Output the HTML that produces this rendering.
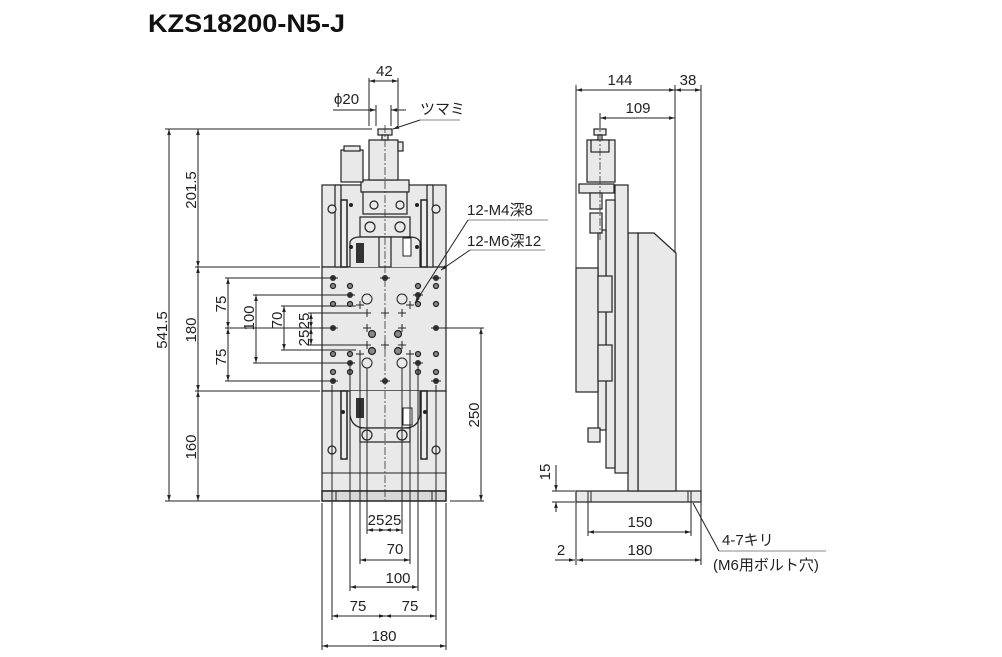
<!DOCTYPE html>
<html><head><meta charset="utf-8"><style>
body{margin:0;background:#fff}
svg{display:block}
text{font-family:"Liberation Sans","Noto Sans CJK JP",sans-serif;font-size:15px;fill:#222}
.d{stroke:#222;stroke-width:1;fill:none}
.o{stroke:#222;stroke-width:1.2;fill:#e9e9e9}
.c{stroke:#333;stroke-width:0.8;stroke-dasharray:8 2 2 2;fill:none}
</style></head><body>
<svg width="1002" height="657" viewBox="0 0 1002 657">
<defs>
<marker id="a" viewBox="0 0 10 10" refX="10" refY="5" markerWidth="8" markerHeight="6" orient="auto-start-reverse"><path d="M0,2 L10,5 L0,8z" fill="#222"/></marker>
</defs>
<text x="148" y="32" textLength="197" lengthAdjust="spacingAndGlyphs" style="font-size:25px;font-weight:bold;fill:#111">KZS18200-N5-J</text>

<!-- FRONT VIEW -->
<rect class="o" x="322" y="185" width="124" height="82"/>
<rect class="o" x="322" y="267" width="124" height="124"/>
<rect class="o" x="322" y="391" width="124" height="100"/>
<line class="d" x1="322" y1="473" x2="446" y2="473"/>
<rect x="322" y="491" width="124" height="10" fill="#d8d8d8" stroke="#222" stroke-width="1.5"/>
<line class="d" x1="332" y1="491" x2="332" y2="501"/><line class="d" x1="336" y1="491" x2="336" y2="501"/>
<line class="d" x1="432" y1="491" x2="432" y2="501"/><line class="d" x1="436" y1="491" x2="436" y2="501"/>
<rect class="o" x="335" y="185" width="6" height="82"/><rect class="o" x="427" y="185" width="6" height="82"/>
<rect x="341" y="200" width="6" height="67" fill="#eee" stroke="#222" stroke-width="1.5"/>
<rect x="421" y="200" width="6" height="67" fill="#eee" stroke="#222" stroke-width="1.5"/>
<rect x="341" y="391" width="6" height="68" fill="#eee" stroke="#222" stroke-width="1.5"/>
<rect x="421" y="391" width="6" height="68" fill="#eee" stroke="#222" stroke-width="1.5"/>
<rect class="o" x="361" y="180" width="48" height="12"/>
<rect class="o" x="363" y="192" width="44" height="22"/>
<rect class="o" x="360" y="217" width="50" height="20"/>
<path class="o" d="M350,267 L350,242 Q352,237 360,237 L410,237 Q418,237 420,242 L420,267"/>
<rect x="356" y="243" width="8" height="20" fill="#333"/>
<rect x="403" y="238" width="8" height="18" fill="#fff" stroke="#222"/>
<rect class="o" x="379" y="237" width="12" height="30"/>
<circle cx="370" cy="227" r="5" class="o"/><circle cx="400" cy="227" r="5" class="o"/>
<circle cx="374" cy="205" r="4" class="o"/><circle cx="400" cy="205" r="4" class="o"/>
<circle cx="332" cy="209" r="4" class="o"/><circle cx="436" cy="209" r="4" class="o"/>
<circle cx="351" cy="205" r="2" fill="#222"/><circle cx="417" cy="205" r="2" fill="#222"/>
<circle cx="351" cy="247" r="2" fill="#222"/><circle cx="417" cy="247" r="2" fill="#222"/>
<rect class="o" x="369" y="140" width="29" height="40"/>
<rect class="o" x="398" y="142" width="5" height="9"/>
<rect class="o" x="378" y="129" width="14" height="6"/>
<rect class="o" x="382" y="135" width="6" height="5"/>
<rect class="o" x="341" y="150" width="22" height="32"/>
<rect class="o" x="344" y="146" width="16" height="5"/>
<path class="o" d="M350,391 L350,415 Q352,428 365,428 L405,428 Q418,428 420,415 L420,391"/>
<rect x="356" y="398" width="8" height="20" fill="#333"/>
<rect x="403" y="408" width="9" height="17" fill="#fff" stroke="#222"/>
<rect class="o" x="360" y="428" width="50" height="14"/>
<circle cx="367" cy="435" r="5" class="o"/><circle cx="402" cy="435" r="5" class="o"/>
<circle cx="332" cy="450" r="4" class="o"/><circle cx="436" cy="450" r="4" class="o"/>
<circle cx="343" cy="412" r="2" fill="#222"/><circle cx="425" cy="412" r="2" fill="#222"/>
<g fill="#333">
<circle cx="333" cy="278" r="3"/><circle cx="385" cy="278" r="3"/><circle cx="436" cy="278" r="3"/>
<circle cx="333" cy="381" r="3"/><circle cx="385" cy="381" r="3"/><circle cx="436" cy="381" r="3"/>
<circle cx="350" cy="295" r="3"/><circle cx="418" cy="295" r="3"/><circle cx="350" cy="363" r="3"/><circle cx="418" cy="363" r="3"/>
<circle cx="333" cy="328" r="3"/><circle cx="436" cy="328" r="3"/>
</g>
<g fill="#888" stroke="#222" stroke-width="1.2">
<circle cx="333" cy="286" r="2.5"/><circle cx="350" cy="286" r="2.5"/><circle cx="418" cy="286" r="2.5"/><circle cx="436" cy="286" r="2.5"/>
<circle cx="333" cy="304" r="2.5"/><circle cx="350" cy="304" r="2.5"/><circle cx="418" cy="304" r="2.5"/><circle cx="436" cy="304" r="2.5"/>
<circle cx="333" cy="354" r="2.5"/><circle cx="350" cy="354" r="2.5"/><circle cx="418" cy="354" r="2.5"/><circle cx="436" cy="354" r="2.5"/>
<circle cx="333" cy="372" r="2.5"/><circle cx="350" cy="372" r="2.5"/><circle cx="418" cy="372" r="2.5"/><circle cx="436" cy="372" r="2.5"/>
<circle cx="372" cy="334" r="3.5"/><circle cx="398" cy="334" r="3.5"/><circle cx="372" cy="351" r="3.5"/><circle cx="398" cy="351" r="3.5"/>
</g>
<g class="d"><circle cx="367" cy="299" r="5"/><circle cx="402" cy="299" r="5"/><circle cx="367" cy="363" r="5"/><circle cx="402" cy="363" r="5"/></g>
<g stroke="#222" stroke-width="1">
<path d="M356,305h8M360,301v8 M406,305h8M410,301v8 M356,354h8M360,350v8 M406,354h8M410,350v8"/>
<path d="M363,313h8M367,309v8 M381,313h8M385,309v8 M398,313h8M402,309v8 M363,345h8M367,341v8 M381,345h8M385,341v8 M398,345h8M402,341v8"/>
<path d="M363,328h8M367,324v8 M398,328h8M402,324v8"/>
<path d="M328,278h10 M380,278h10 M431,278h10 M328,381h10 M380,381h10 M431,381h10 M345,295h10 M413,295h10 M345,363h10 M413,363h10 M328,328h10 M431,328h10"/>
</g>
<line class="c" x1="385" y1="125" x2="385" y2="500"/>
<g class="d">
<line x1="165" y1="129" x2="372" y2="129"/>
<line x1="195" y1="267" x2="320" y2="267"/>
<line x1="195" y1="391" x2="320" y2="391"/>
<line x1="165" y1="501" x2="320" y2="501"/>
<line x1="450" y1="501" x2="484" y2="501"/>
<line x1="440" y1="328" x2="484" y2="328"/>
<line x1="169" y1="129" x2="169" y2="501" marker-start="url(#a)" marker-end="url(#a)"/>
<line x1="198" y1="129" x2="198" y2="267" marker-start="url(#a)" marker-end="url(#a)"/>
<line x1="198" y1="267" x2="198" y2="391" marker-start="url(#a)" marker-end="url(#a)"/>
<line x1="198" y1="391" x2="198" y2="501" marker-start="url(#a)" marker-end="url(#a)"/>
<line x1="481" y1="328" x2="481" y2="501" marker-start="url(#a)" marker-end="url(#a)"/>
<line x1="225" y1="278" x2="328" y2="278"/><line x1="225" y1="328" x2="328" y2="328"/><line x1="225" y1="381" x2="328" y2="381"/>
<line x1="228" y1="278" x2="228" y2="328" marker-start="url(#a)" marker-end="url(#a)"/>
<line x1="228" y1="328" x2="228" y2="381" marker-start="url(#a)" marker-end="url(#a)"/>
<line x1="253" y1="295" x2="345" y2="295"/><line x1="253" y1="363" x2="345" y2="363"/>
<line x1="256" y1="295" x2="256" y2="363" marker-start="url(#a)" marker-end="url(#a)"/>
<line x1="281" y1="306" x2="356" y2="306"/><line x1="281" y1="350" x2="356" y2="350"/>
<line x1="284" y1="306" x2="284" y2="350" marker-start="url(#a)" marker-end="url(#a)"/>
<line x1="308" y1="313" x2="363" y2="313"/><line x1="308" y1="345" x2="363" y2="345"/>
<line x1="311" y1="313" x2="311" y2="328" marker-start="url(#a)" marker-end="url(#a)"/>
<line x1="311" y1="328" x2="311" y2="345" marker-start="url(#a)" marker-end="url(#a)"/>
<line x1="322" y1="503" x2="322" y2="650"/><line x1="446" y1="503" x2="446" y2="650"/>
<line x1="332" y1="385" x2="332" y2="620"/><line x1="436" y1="385" x2="436" y2="620"/>
<line x1="350" y1="366" x2="350" y2="591"/><line x1="418" y1="366" x2="418" y2="591"/>
<line x1="360" y1="358" x2="360" y2="564"/><line x1="410" y1="358" x2="410" y2="564"/>
<line x1="367" y1="368" x2="367" y2="534"/><line x1="402" y1="368" x2="402" y2="534"/>
<line x1="367" y1="530" x2="385" y2="530" marker-start="url(#a)" marker-end="url(#a)"/>
<line x1="385" y1="530" x2="402" y2="530" marker-start="url(#a)" marker-end="url(#a)"/>
<line x1="360" y1="560" x2="410" y2="560" marker-start="url(#a)" marker-end="url(#a)"/>
<line x1="350" y1="587" x2="418" y2="587" marker-start="url(#a)" marker-end="url(#a)"/>
<line x1="332" y1="616" x2="385" y2="616" marker-start="url(#a)" marker-end="url(#a)"/>
<line x1="385" y1="616" x2="436" y2="616" marker-start="url(#a)" marker-end="url(#a)"/>
<line x1="322" y1="646" x2="446" y2="646" marker-start="url(#a)" marker-end="url(#a)"/>
<line x1="369" y1="78" x2="369" y2="126"/><line x1="398" y1="78" x2="398" y2="126"/>
<line x1="376" y1="105" x2="376" y2="126"/><line x1="391" y1="105" x2="391" y2="126"/>
<line x1="369" y1="81" x2="398" y2="81" marker-start="url(#a)" marker-end="url(#a)"/>
<line x1="333" y1="110" x2="376" y2="110" marker-end="url(#a)"/>
<line x1="406" y1="110" x2="391" y2="110" marker-end="url(#a)"/>
<line x1="460" y1="120" x2="420" y2="120" stroke="#888"/><line x1="420" y1="120" x2="393" y2="129" marker-end="url(#a)"/>
<line x1="548" y1="220" x2="468" y2="220" stroke="#888"/><line x1="468" y1="220" x2="415" y2="303" marker-end="url(#a)"/>
<line x1="545" y1="250" x2="470" y2="250" stroke="#888"/><line x1="470" y1="250" x2="441" y2="270" marker-end="url(#a)"/>
</g>
<text x="376" y="76">42</text>
<text x="334" y="104">ϕ20</text>
<text x="420" y="114">ツマミ</text>
<text x="467" y="215">12-M4深8</text>
<text x="467" y="246">12-M6深12</text>
<g text-anchor="middle">
<text transform="translate(167,330) rotate(-90)">541.5</text>
<text transform="translate(196,190) rotate(-90)">201.5</text>
<text transform="translate(196,330) rotate(-90)">180</text>
<text transform="translate(196,447) rotate(-90)">160</text>
<text transform="translate(226,304) rotate(-90)">75</text>
<text transform="translate(226,357) rotate(-90)">75</text>
<text transform="translate(254,318) rotate(-90)">100</text>
<text transform="translate(282,320) rotate(-90)">70</text>
<text transform="translate(309,321) rotate(-90)">25</text>
<text transform="translate(309,338) rotate(-90)">25</text>
<text transform="translate(479,415) rotate(-90)">250</text>
<text x="376" y="525">25</text><text x="393" y="525">25</text>
<text x="395" y="554">70</text>
<text x="398" y="583">100</text>
<text x="358" y="611">75</text><text x="410" y="611">75</text>
<text x="384" y="641">180</text>
<text x="620" y="85">144</text><text x="688" y="85">38</text>
<text x="638" y="113">109</text>
<text x="640" y="527">150</text><text x="640" y="555">180</text>
<text transform="translate(550,472) rotate(-90)">15</text>
<text x="561" y="555">2</text>
</g>
<rect class="o" x="576" y="491" width="125" height="11"/>
<line class="d" x1="588" y1="491" x2="588" y2="502"/><line class="d" x1="591" y1="491" x2="591" y2="502"/>
<line class="d" x1="688" y1="491" x2="688" y2="502"/><line class="d" x1="691" y1="491" x2="691" y2="502"/>
<path class="o" d="M638,233 L654,233 L676,253 L676,491 L638,491z"/>
<rect class="o" x="628" y="233" width="10" height="258"/>
<rect class="o" x="615" y="185" width="13" height="288"/>
<rect class="o" x="606" y="200" width="9" height="268"/>
<rect class="o" x="598" y="230" width="8" height="200"/>
<rect class="o" x="576" y="268" width="22" height="124"/>
<rect class="o" x="598" y="276" width="14" height="36"/><rect class="o" x="598" y="345" width="14" height="36"/>
<rect class="o" x="588" y="428" width="12" height="14"/>
<rect class="o" x="579" y="184" width="35" height="9"/>
<rect class="o" x="587" y="140" width="28" height="42"/>
<rect class="o" x="591" y="140" width="18" height="12"/>
<rect class="o" x="594" y="129" width="12" height="6"/><rect class="o" x="598" y="135" width="4" height="5"/>
<rect class="o" x="590" y="193" width="12" height="16"/>
<rect class="o" x="590" y="213" width="12" height="20"/>
<line class="c" x1="600" y1="120" x2="600" y2="240"/>
<g class="d">
<line x1="576" y1="85" x2="576" y2="268"/><line x1="576" y1="502" x2="576" y2="565"/>
<line x1="675" y1="85" x2="675" y2="253"/><line x1="701" y1="85" x2="701" y2="565"/>
<line x1="600" y1="113" x2="600" y2="128"/>
<line x1="576" y1="90" x2="675" y2="90" marker-start="url(#a)" marker-end="url(#a)"/>
<line x1="675" y1="90" x2="701" y2="90" marker-start="url(#a)" marker-end="url(#a)"/>
<line x1="600" y1="118" x2="675" y2="118" marker-start="url(#a)" marker-end="url(#a)"/>
<line x1="588" y1="502" x2="588" y2="536"/><line x1="691" y1="502" x2="691" y2="536"/>
<line x1="588" y1="532" x2="691" y2="532" marker-start="url(#a)" marker-end="url(#a)"/>
<line x1="577" y1="560" x2="701" y2="560" marker-start="url(#a)" marker-end="url(#a)"/>
<line x1="555" y1="560" x2="575" y2="560" marker-end="url(#a)"/>
<line x1="552" y1="491" x2="575" y2="491"/><line x1="552" y1="502" x2="575" y2="502"/>
<line x1="556" y1="465" x2="556" y2="491" marker-end="url(#a)"/>
<line x1="556" y1="512" x2="556" y2="502" marker-end="url(#a)"/>
<line x1="693" y1="503" x2="719" y2="551"/>
<line x1="719" y1="551" x2="826" y2="551" stroke="#888"/>
</g>
<text x="722" y="545">4-7キリ</text>
<text x="713" y="570">(M6用ボルト穴)</text>
</svg>
</body></html>
